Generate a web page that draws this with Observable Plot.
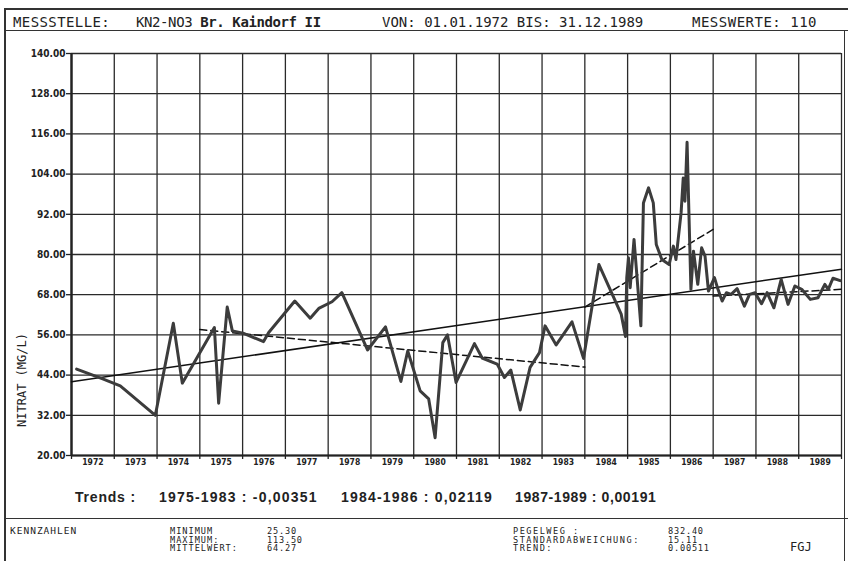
<!DOCTYPE html>
<html>
<head>
<meta charset="utf-8">
<script src="https://cdn.jsdelivr.net/npm/d3@7"></script>
<script src="https://cdn.jsdelivr.net/npm/@observablehq/plot@0.6"></script>
<style>
  html, body { margin: 0; padding: 0; background: #fff; }
  #wrap { position: relative; width: 848px; height: 561px; overflow: hidden; background: #fff; }
  #chart { position: absolute; left: 0; top: 0; }
  .t { position: absolute; white-space: pre; color: #222; }
  .mono { font-family: "DejaVu Sans Mono", "Liberation Mono", monospace; }
  .hl { position: absolute; background: #333; }
  .tr { font-family: 'Liberation Sans', Arial, sans-serif; font-weight: bold; font-size: 14px; line-height: 16px; top: 489px; }
  .ft { font-size: 8.6px; line-height: 8.5px; }
</style>
</head>
<body>
<div id="wrap">
  <div id="chart"></div>
  <!-- frame lines -->
  <div class="hl" style="left:4px; top:8px; width:844px; height:1.5px;"></div>
  <div class="hl" style="left:4px; top:30px; width:844px; height:1.2px;"></div>
  <div class="hl" style="left:4px; top:518px; width:844px; height:1.3px;"></div>
  <div class="hl" style="left:4px; top:8px; width:1.8px; height:553px;"></div>
  <div class="hl" style="left:844px; top:30px; width:1.2px; height:531px;"></div>

  <div class="t mono" style="left:13px; top:15px; font-size:14px; line-height:14px; letter-spacing:0.4px;">MESSSTELLE:</div>
  <div class="t mono" style="left:136px; top:15px; font-size:14px; line-height:14px; letter-spacing:-0.4px;">KN2-NO3 <b>Br. Kaindorf II</b></div>
  <div class="t mono" style="left:382px; top:15px; font-size:14px; line-height:14px;">VON: 01.01.1972 BIS: 31.12.1989</div>
  <div class="t mono" style="left:692px; top:15px; font-size:14px; line-height:14px; letter-spacing:0.5px;">MESSWERTE: 110</div>

  <div class="t mono" style="left:-31px; top:374px; font-size:12px; line-height:12px; transform:rotate(-90deg); width:105px; text-align:center;">NITRAT (MG/L)</div>

  <div class="t tr" style="left:75px; letter-spacing:0.8px;">Trends :</div>
  <div class="t tr" style="left:159px; letter-spacing:1.2px;">1975-1983 : -0,00351</div>
  <div class="t tr" style="left:341px; letter-spacing:1.2px;">1984-1986 : 0,02119</div>
  <div class="t tr" style="left:515px; letter-spacing:0.6px;">1987-1989 : 0,00191</div>

  <div class="t mono" style="left:10px; top:526px; font-size:9.5px; line-height:9px; letter-spacing:1.0px;">KENNZAHLEN</div>
  <div class="t mono ft" style="left:170px; top:527px; letter-spacing:1.0px;">MINIMUM
MAXIMUM:
MITTELWERT:</div>
  <div class="t mono ft" style="left:267px; top:527px; letter-spacing:0.8px;">25.30
113.50
64.27</div>
  <div class="t mono ft" style="left:513px; top:527px; letter-spacing:1.5px;">PEGELWEG :
STANDARDABWEICHUNG:
TREND:</div>
  <div class="t mono ft" style="left:668px; top:527px; letter-spacing:0.8px;">832.40
15.11
0.00511</div>
  <div class="t mono" style="left:790px; top:541px; font-size:12px; line-height:12px;">FGJ</div>
</div>
<script>
// ---- data ----
const gridYears = [1972,1973,1974,1975,1976,1977,1978,1979,1980,1981,1982,1983,1984,1985,1986,1987,1988,1989,1990];
const yearLabels = [1972,1973,1974,1975,1976,1977,1978,1979,1980,1981,1982,1983,1984,1985,1986,1987,1988,1989];
const yTicks = [20,32,44,56,68,80,92,104,116,128,140];

const times = [
  1972.12,1972.70,1973.14,1973.96,1974.38,1974.59,1975.34,1975.44,1975.64,1975.76,
  1976.01,1976.49,1976.61,1977.22,1977.58,1977.78,1978.09,1978.32,1978.92,1979.34,
  1979.70,1979.86,1980.15,1980.35,1980.50,1980.68,1980.79,1980.99,1981.42,1981.60,
  1981.95,1982.12,1982.27,1982.49,1982.72,1982.94,1983.07,1983.33,1983.70,1983.97,
  1984.33,1984.85,1984.95,1984.98,1985.02,1985.06,1985.15,1985.31,1985.37,1985.49,
  1985.60,1985.67,1985.80,1985.97,1986.07,1986.13,1986.25,1986.30,1986.34,1986.39,
  1986.48,1986.54,1986.64,1986.73,1986.81,1986.89,1987.03,1987.10,1987.21,1987.31,
  1987.42,1987.56,1987.73,1987.85,1987.98,1988.13,1988.26,1988.42,1988.59,1988.75,
  1988.91,1989.07,1989.27,1989.45,1989.61,1989.69,1989.80,1989.97
];
const nitrat = [
  45.8,43.0,40.8,32.0,59.5,41.6,58.2,35.6,64.3,57.2,
  56.5,54.0,56.7,66.1,61.0,63.9,65.9,68.6,51.5,58.4,
  42.1,51.2,39.3,36.9,25.3,53.7,56.0,41.8,53.4,49.1,
  47.3,43.3,45.5,33.6,46.3,50.7,58.7,53.0,59.9,49.0,
  77.0,62.2,55.5,73.1,79.0,70.1,84.5,58.7,95.4,99.9,
  95.4,83.0,78.5,77.0,82.5,78.5,92.4,102.8,95.9,113.5,
  69.6,81.0,71.1,82.0,79.5,69.1,73.1,70.1,66.1,68.6,
  68.1,69.8,64.6,68.1,68.6,65.3,68.6,64.1,72.6,65.1,
  70.6,69.6,66.6,67.1,71.1,69.6,72.9,72.2
];

// trend lines (start / end)
const trendAllT = [1972, 1990], trendAllV = [42.0, 75.6];
const trend1T = [1975, 1984], trend1V = [57.6, 46.4];
const trend2T = [1984, 1987], trend2V = [64.3, 87.5];
const trend3T = [1987, 1990], trend3V = [67.6, 69.6];

const data = times.map((t, i) => ({t, v: nitrat[i]}));
const mk = (T, V) => T.map((t, i) => ({t, v: V[i]}));

const chart = Plot.plot({
  width: 848,
  height: 561,
  marginLeft: 71,
  marginRight: 7,
  marginTop: 53,
  marginBottom: 106,
  style: {background: "transparent", fontFamily: "'DejaVu Sans Condensed', 'DejaVu Sans', sans-serif", color: "#222"},
  x: {domain: [1972, 1990]},
  y: {domain: [20, 140]},
  marks: [
    Plot.ruleX(gridYears, {stroke: "#2a2a2a", strokeWidth: 1.3}),
    Plot.ruleY(yTicks, {stroke: "#2a2a2a", strokeWidth: 1.3}),
    Plot.axisY({ticks: yTicks, tickFormat: d => d.toFixed(2), tickSize: 5, tickPadding: 1, fontSize: 10, fontWeight: "bold", label: null, strokeWidth: 1.3}),
    Plot.axisX({ticks: gridYears, tickFormat: () => "", tickSize: 4, label: null, strokeWidth: 1.3}),
    Plot.text(yearLabels, {x: d => d + 0.5, frameAnchor: "bottom", dy: 9, text: d => String(d), fontSize: 8.5, fontWeight: "bold", fill: "#222"}),
    Plot.ruleX([1972], {stroke: "#222", strokeWidth: 2.4}),
    Plot.ruleY([20], {stroke: "#222", strokeWidth: 1.8}),
    Plot.line(mk(trendAllT, trendAllV), {x: "t", y: "v", stroke: "#111", strokeWidth: 1.5}),
    Plot.line(mk(trend1T, trend1V), {x: "t", y: "v", stroke: "#111", strokeWidth: 1.5, strokeDasharray: "7,4"}),
    Plot.line(mk(trend2T, trend2V), {x: "t", y: "v", stroke: "#111", strokeWidth: 1.5, strokeDasharray: "7,4"}),
    Plot.line(mk(trend3T, trend3V), {x: "t", y: "v", stroke: "#111", strokeWidth: 1.5, strokeDasharray: "7,4"}),
    Plot.line(data, {x: "t", y: "v", stroke: "#3c3c3c", strokeWidth: 3, strokeLinejoin: "round"})
  ]
});
document.getElementById("chart").appendChild(chart);
</script>
</body>
</html>
